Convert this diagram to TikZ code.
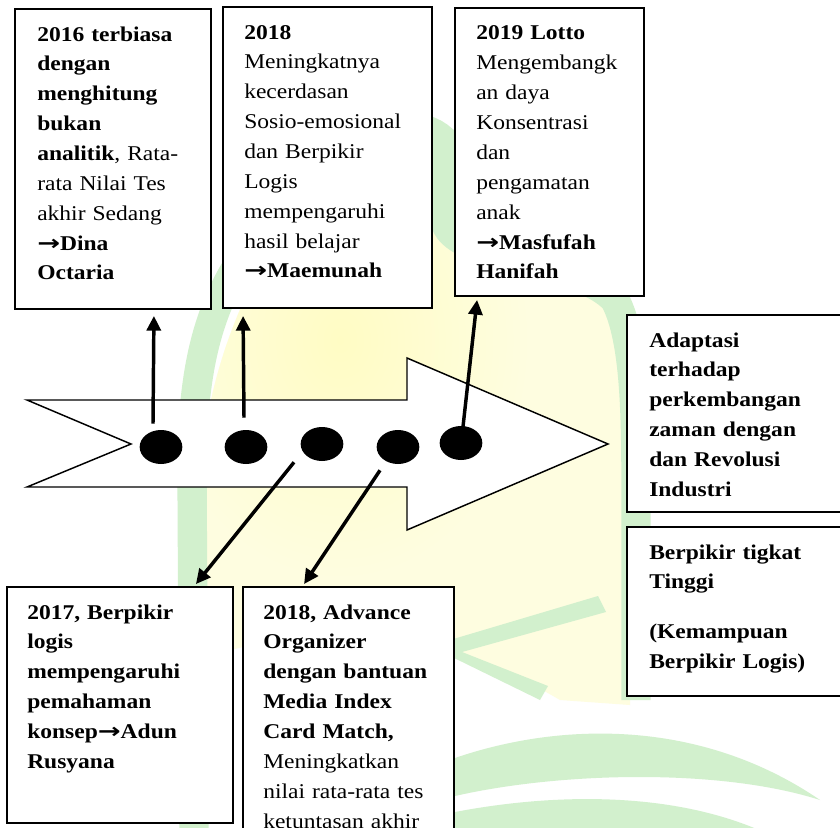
\documentclass[tikz,border=0pt]{standalone}
\usepackage{fontspec}
\setmainfont{Liberation Serif}[FakeStretch=1.12]
\newfontfamily\arrowf{DejaVu Sans}[FakeStretch=1.3]
\newcommand{\rarr}{{\arrowf\bfseries →}}
\usetikzlibrary{shapes.geometric,arrows.meta,calc,fit}
\definecolor{wmgreen}{RGB}{210,240,205}
\definecolor{wmyellow}{RGB}{254,253,224}
\definecolor{wmyellowc}{RGB}{255,252,196}
\begin{document}
\begin{tikzpicture}[x=0.75pt,y=-0.75pt,
  box/.style={draw=black, fill=white, line width=1.4pt, inner sep=0pt},
  txt/.style={anchor=base west, inner sep=0pt, text width=190pt, align=left,
    font=\fontsize{15.75}{22.4}\selectfont},
  conn/.style={line width=2.6pt, -{Triangle[length=11pt,width=10.5pt]}},
  blob/.style={ellipse, fill=black, minimum width=32pt, minimum height=25.5pt, inner sep=0pt},
  wmband/.style={wmgreen, line width=22pt}]
\useasboundingbox (0,0) rectangle (840,828);
\clip (0,0) rectangle (840,828);
\fill[white] (0,0) rectangle (840,828);
% ---------- watermark ----------
\fill[wmyellow] (200,660) -- (200,500) .. controls (200,380) and (250,250) .. (340,160)
  .. controls (390,115) and (430,110) .. (450,150) .. controls (530,220) and (615,260) .. (628,340)
  .. controls (636,420) and (634,520) .. (630,705) -- (560,700) .. controls (460,640) and (300,620) .. cycle;
\begin{scope}
  \clip (200,660) -- (200,500) .. controls (200,380) and (250,250) .. (340,160)
  .. controls (390,115) and (430,110) .. (450,150) .. controls (530,220) and (615,260) .. (628,340)
  .. controls (636,420) and (634,520) .. (630,705) -- (200,705) -- cycle;
  \shade[inner color=wmyellowc, outer color=wmyellow] (340,340) ellipse [x radius=190, y radius=240];
\end{scope}
\draw[wmband] (194,840) -- (192,470) .. controls (192,380) and (205,320) .. (235,270)
  .. controls (300,160) and (400,100) .. (443,140) -- (445,220)
  .. controls (450,260) and (580,260) .. (615,300) .. controls (636,340) and (636,420) .. (636,500) -- (636,700);
\fill[wmgreen] (450,640) -- (598,596) -- (606,612) -- (462,652) -- (548,686) -- (540,700) -- (450,656) -- cycle;
\fill[wmgreen] (455,758) .. controls (560,722) and (700,718) .. (820,800)
  .. controls (720,768) and (560,772) .. (455,796) -- cycle;
\fill[wmgreen] (455,812) .. controls (560,792) and (680,792) .. (770,835) -- (455,835) -- cycle;
% ---------- big arrow ----------
\draw[line width=1.1pt, fill=white, line join=miter]
  (27,400) -- (407,400) -- (407,358) -- (608,444) -- (407,530) -- (407,487) -- (27,487) -- (131,444) -- cycle;
% ---------- boxes ----------
\node[box, fit={(15,9) (211,309)}] (b1) {};
\node[box, fit={(223,7) (432,308)}] (b2) {};
\node[box, fit={(455,8) (644,296)}] (b3) {};
\node[box, fit={(627,315) (850,512)}] (r1) {};
\node[box, fit={(627,527) (850,696)}] (r2) {};
\node[box, fit={(7,587) (233,823)}] (b4) {};
\node[box, fit={(243,587) (454,860)}] (b5) {};
% ---------- texts ----------
\node[txt] (t1) at (37,41) {\textbf{2016 terbiasa}\\ \textbf{dengan}\\ \textbf{menghitung}\\ \textbf{bukan}\\ \textbf{analitik}, Rata-\\ rata Nilai Tes\\ akhir Sedang\\ \rarr\textbf{Dina}\\ \textbf{Octaria}};
\node[txt] (t2) at (244,39) {\textbf{2018}\\ Meningkatnya\\ kecerdasan\\ Sosio-emosional\\ dan Berpikir\\ Logis\\ mempengaruhi\\ hasil belajar\\ \rarr\textbf{Maemunah}};
\node[txt] (t3) at (476,40) {\textbf{2019 Lotto}\\ Mengembangk\\ an daya\\ Konsentrasi\\ dan\\ pengamatan\\ anak\\ \rarr\textbf{Masfufah}\\ \textbf{Hanifah}};
\node[txt] (t4) at (649,347) {\bfseries Adaptasi\\ terhadap\\ perkembangan\\ zaman dengan\\ dan Revolusi\\ Industri};
\node[txt] (t5) at (649,559) {\bfseries Berpikir tigkat\\ Tinggi\\[15pt] (Kemampuan\\ Berpikir Logis)};
\node[txt] (t6) at (27,619) {\bfseries 2017, Berpikir\\ logis\\ mempengaruhi\\ pemahaman\\ konsep\rarr Adun\\ Rusyana};
\node[txt] (t7) at (263,619) {\textbf{2018, Advance}\\ \textbf{Organizer}\\ \textbf{dengan bantuan}\\ \textbf{Media Index}\\ \textbf{Card Match,}\\ Meningkatkan\\ nilai rata-rata tes\\ ketuntasan akhir};
% ---------- dots ----------
\node[blob] (d1) at (161,447) {};
\node[blob] (d2) at (246,447) {};
\node[blob] (d3) at (322,444) {};
\node[blob] (d4) at (398,447) {};
\node[blob] (d5) at (461,443) {};
% ---------- connectors ----------
\draw[conn] ($(d1.north)+(-8,-6)$) -- ($(b1.south east)+(-58,6)$);
\draw[conn] ($(d2.north)+(-2,-12)$) -- ($(b2.south west)+(21,7)$);
\draw[conn] ($(d5.north)+(2,1)$) -- ($(b3.south west)+(23,3)$);
\draw[conn] ($(d3.south)+(-28,1)$) -- ($(b4.north east)+(-38,-2)$);
\draw[conn] ($(d4.south)+(-18,6)$) -- ($(b5.north west)+(62,-2)$);
\end{tikzpicture}
\end{document}
